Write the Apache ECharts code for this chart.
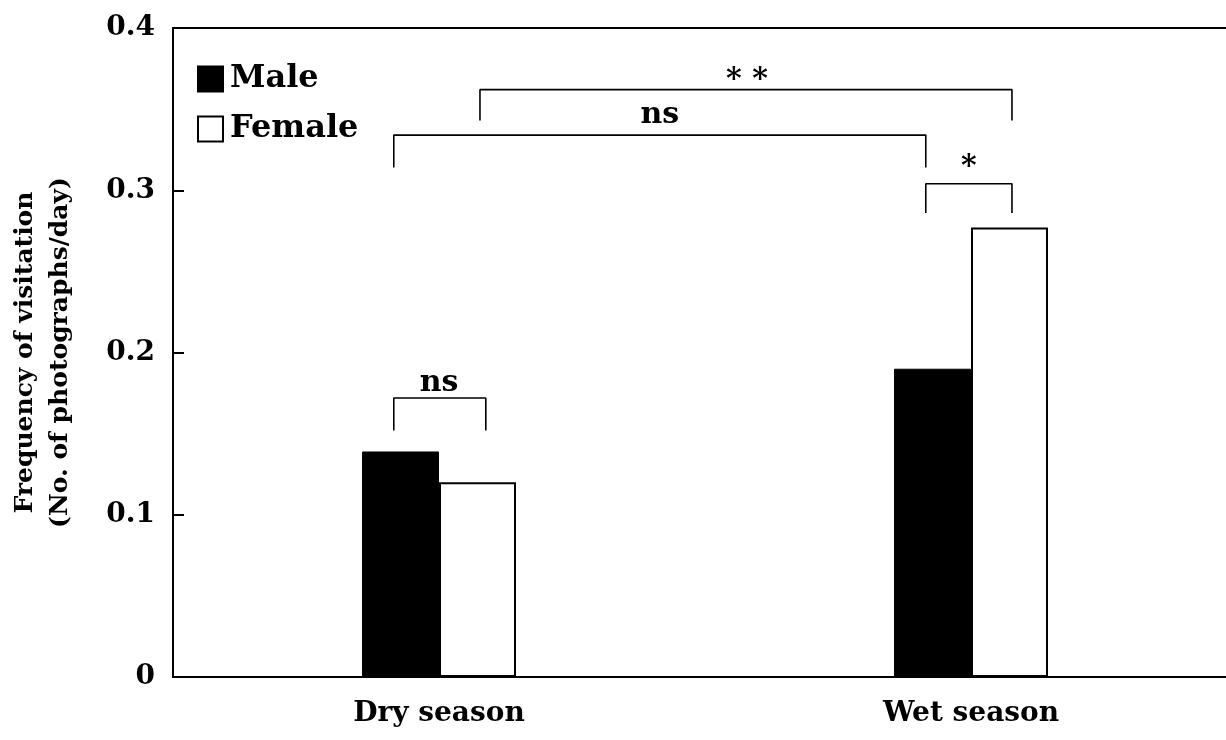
<!DOCTYPE html>
<html>
<head>
<meta charset="utf-8">
<script src="https://cdn.jsdelivr.net/npm/echarts@6/dist/echarts.min.js"></script>
<style>
html,body{margin:0;padding:0;background:#fff;}
#chart{width:1226px;height:740px;}
</style>
</head>
<body>
<div id="chart"></div>
<script>
// ---- data ----
var categories = ['Dry season', 'Wet season'];
var maleValues = [0.139, 0.190];
var femaleValues = [0.120, 0.277];
var yTicks = [0, 0.1, 0.2, 0.3, 0.4];

// significance brackets: points [x, y]; x in category units (0..2), y in data units
var bracketDry = [[0.415, 0.152], [0.415, 0.172], [0.588, 0.172], [0.588, 0.152]];
var bracketWet = [[1.415, 0.286], [1.415, 0.304], [1.577, 0.304], [1.577, 0.286]];
var bracketMale = [[0.415, 0.314], [0.415, 0.334], [1.415, 0.334], [1.415, 0.314]];
var bracketFemale = [[0.577, 0.343], [0.577, 0.362], [1.577, 0.362], [1.577, 0.343]];
// significance labels: [x, y, text]
var sigLabels = [
  [0.5, 0.181, 'ns'],
  [1.496, 0.314, '*'],
  [0.915, 0.346, 'ns'],
  [1.079, 0.368, '* *']
];

var FONT = '"DejaVu Serif", serif';
var chart = echarts.init(document.getElementById('chart'), null, {renderer: 'canvas'});

function bracketSeries(data) {
  return {
    type: 'line', xAxisIndex: 1, yAxisIndex: 0, data: data,
    symbol: 'none', silent: true, animation: false,
    lineStyle: {color: '#000', width: 1.6}
  };
}

var option = {
  animation: false,
  backgroundColor: '#fff',
  textStyle: {fontFamily: FONT},
  grid: {left: 173, top: 28, bottom: 63, width: 1064, containLabel: false, outerBoundsMode: 'none'},
  legend: {
    data: ['Male', 'Female'],
    orient: 'vertical', left: 192, top: 58,
    itemWidth: 25, itemHeight: 25, itemGap: 18,
    icon: 'rect',
    textStyle: {fontFamily: FONT, fontWeight: 'bold', fontSize: 32, color: '#000', padding: [0, 0, 0, 2]}
  },
  xAxis: [{
    type: 'category', data: categories,
    axisLine: {lineStyle: {color: '#000', width: 2}},
    axisTick: {show: false},
    axisLabel: {fontFamily: FONT, fontWeight: 'bold', fontSize: 28, color: '#000', margin: 23}
  }, {
    type: 'value', min: 0, max: 2, position: 'top',
    axisLine: {show: true, onZero: false, lineStyle: {color: '#000', width: 2}},
    axisTick: {show: false}, axisLabel: {show: false}, splitLine: {show: false}
  }],
  yAxis: {
    type: 'value', min: yTicks[0], max: yTicks[yTicks.length - 1], interval: 0.1,
    axisLine: {show: true, lineStyle: {color: '#000', width: 2}},
    axisTick: {show: true, inside: true, length: 11, lineStyle: {color: '#000', width: 2}},
    splitLine: {show: false},
    axisLabel: {fontFamily: FONT, fontWeight: 'bold', fontSize: 28, color: '#000', margin: 18},
    name: 'Frequency of visitation\n(No. of photographs/day)',
    nameLocation: 'middle', nameRotate: 90, nameGap: 95,
    nameTextStyle: {fontFamily: FONT, fontWeight: 'bold', fontSize: 25, color: '#000', lineHeight: 35}
  },
  series: [{
    name: 'Male', type: 'bar', data: maleValues, barWidth: 77, barGap: '0%',
    itemStyle: {color: '#000', borderColor: '#000', borderWidth: 1}
  }, {
    name: 'Female', type: 'bar', data: femaleValues, barWidth: 77, barGap: '0%',
    itemStyle: {color: '#fff', borderColor: '#000', borderWidth: 2}
  },
  bracketSeries(bracketDry),
  bracketSeries(bracketWet),
  bracketSeries(bracketMale),
  bracketSeries(bracketFemale),
  {
    type: 'scatter', xAxisIndex: 1, yAxisIndex: 0, data: sigLabels,
    symbolSize: 0, silent: true,
    itemStyle: {opacity: 1, color: '#000'},
    label: {
      show: true, position: 'inside', opacity: 1,
      formatter: function (p) { return p.value[2]; },
      fontFamily: FONT, fontWeight: 'bold', fontSize: 30, color: '#000'
    }
  }]
};
chart.setOption(option);
</script>
</body>
</html>
